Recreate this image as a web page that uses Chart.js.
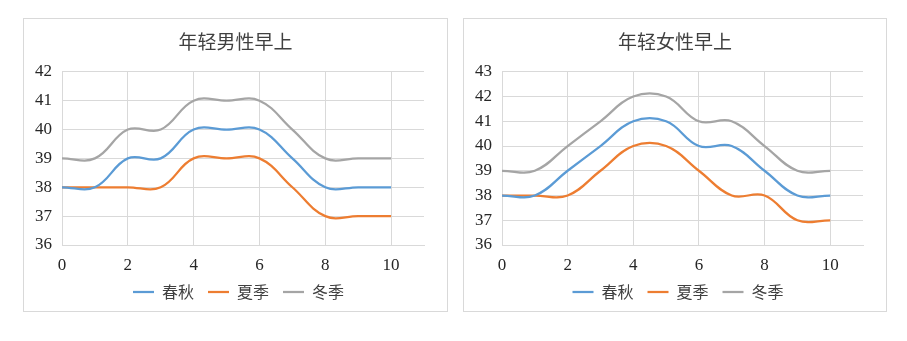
<!DOCTYPE html>
<html>
<head>
<meta charset="utf-8">
<script src="https://cdn.jsdelivr.net/npm/chart.js@4.4.0/dist/chart.umd.min.js"></script>
<style>
  body { margin: 0; background: #fff; }
  .box { position: absolute; border: 1px solid #d9d9d9; background: #fff; }
  #boxMale { left: 23px; top: 18px; width: 423px; height: 292px; }
  #boxFemale { left: 463px; top: 18px; width: 422px; height: 292px; }
</style>
</head>
<body>
<div class="box" id="boxMale"><canvas id="chartMale" width="423" height="292"></canvas></div>
<div class="box" id="boxFemale"><canvas id="chartFemale" width="422" height="292"></canvas></div>
<script>
// 时刻 (x)
const xValues = [0, 1, 2, 3, 4, 5, 6, 7, 8, 9, 10];
const seriesNames = ['春秋', '夏季', '冬季'];
const seriesColors = ['#5b9bd5', '#ed7d31', '#a5a5a5'];

// 年轻男性早上
const maleSpring = [38, 38, 39, 39, 40, 40, 40, 39, 38, 38, 38];
const maleSummer = [38, 38, 38, 38, 39, 39, 39, 38, 37, 37, 37];
const maleWinter = [39, 39, 40, 40, 41, 41, 41, 40, 39, 39, 39];

// 年轻女性早上
const femaleSpring = [38, 38, 39, 40, 41, 41, 40, 40, 39, 38, 38];
const femaleSummer = [38, 38, 38, 39, 40, 40, 39, 38, 38, 37, 37];
const femaleWinter = [39, 39, 40, 41, 42, 42, 41, 41, 40, 39, 39];

const numFont = "'Liberation Serif', 'Noto Sans CJK SC', serif";
const cjkFont = "'Noto Sans CJK SC', sans-serif";

// title and legend are centred on the whole canvas, not just the plot column
const centreBlocks = {
    id: 'centreBlocks',
    afterLayout(chart) {
        const w = chart.width;
        if (chart.titleBlock) {
            chart.titleBlock.left = 0;
            chart.titleBlock.right = w;
        }
        if (chart.legend) {
            chart.legend.left = 3;
            chart.legend.right = w + 3;
        }
    }
};

function makeDatasets(lists) {
    return lists.map((vals, i) => ({
        label: seriesNames[i],
        data: vals.map((v, j) => ({ x: xValues[j], y: v })),
        borderColor: seriesColors[i],
        backgroundColor: seriesColors[i],
        borderWidth: 2.25,
        pointRadius: 0,
        tension: 0.4,
        fill: false
    }));
}

function makeChart(canvasId, title, lists, yMax) {
    const ctx = document.getElementById(canvasId).getContext('2d');
    return new Chart(ctx, {
        type: 'line',
        data: { datasets: makeDatasets(lists) },
        plugins: [centreBlocks],
        options: {
            responsive: false,
            animation: false,
            layout: { padding: { left: 0, right: 23, top: 0, bottom: 1 } },
            plugins: {
                title: {
                    display: true,
                    text: title,
                    color: '#404040',
                    font: { family: cjkFont, size: 19, weight: 'normal' },
                    padding: { top: 11, bottom: 19 }
                },
                legend: {
                    position: 'bottom',
                    labels: {
                        usePointStyle: true,
                        pointStyle: 'line',
                        pointStyleWidth: 21,
                        color: '#404040',
                        font: { family: cjkFont, size: 16 },
                        padding: 14
                    }
                },
                tooltip: { enabled: false }
            },
            scales: {
                x: {
                    type: 'linear',
                    min: 0,
                    max: 11,
                    afterFit: function (scale) { scale.height = 25; },
                    ticks: {
                        stepSize: 2,
                        includeBounds: false,
                        color: '#262626',
                        padding: 10,
                        font: { family: numFont, size: 17 }
                    },
                    grid: { color: '#d9d9d9', drawTicks: false },
                    border: { color: '#d9d9d9' }
                },
                y: {
                    min: 36,
                    max: yMax,
                    afterFit: function (scale) { scale.width = 38; },
                    ticks: {
                        stepSize: 1,
                        color: '#262626',
                        padding: 10,
                        font: { family: numFont, size: 17 }
                    },
                    grid: { color: '#d9d9d9', drawTicks: false },
                    border: { color: '#d9d9d9' }
                }
            }
        }
    });
}

makeChart('chartMale', '年轻男性早上', [maleSpring, maleSummer, maleWinter], 42);
makeChart('chartFemale', '年轻女性早上', [femaleSpring, femaleSummer, femaleWinter], 43);
</script>
</body>
</html>
